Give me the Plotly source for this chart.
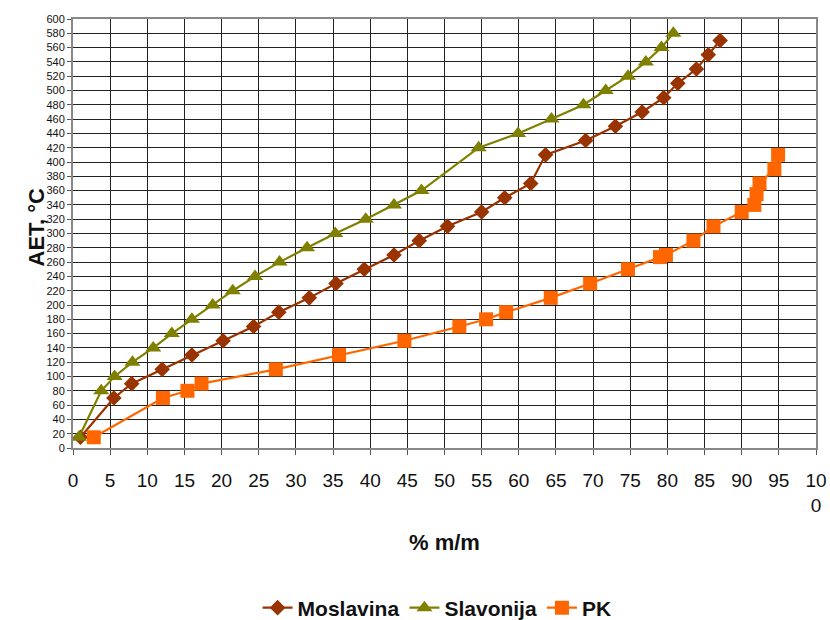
import plotly.graph_objects as go

# Moslavina crude: distillation curve (% m/m vs AET, °C)
mos_x = [1.0, 5.5, 7.9, 12.0, 16.0, 20.2, 24.3, 27.7, 31.8, 35.4, 39.2, 43.2, 46.6,
         50.4, 55.0, 58.1, 61.6, 63.6, 69.0, 73.0, 76.6, 79.5, 81.4, 83.9, 85.5, 87.1]
mos_y = [15, 70, 90, 110, 130, 150, 170, 190, 210, 230, 250, 270, 290,
         310, 330, 350, 370, 410, 430, 450, 470, 490, 510, 530, 550, 570]

# Slavonija crude
sla_x = [0.8, 3.8, 5.6, 8.0, 10.8, 13.3, 16.0, 18.8, 21.5, 24.5, 27.8, 31.5, 35.3,
         39.4, 43.2, 46.9, 54.6, 59.9, 64.4, 68.7, 71.7, 74.7, 77.1, 79.2, 80.8]
sla_y = [15, 80, 100, 120, 140, 160, 180, 200, 220, 240, 260, 280, 300,
         320, 340, 360, 420, 440, 460, 480, 500, 520, 540, 560, 580]

# PK
pk_x = [2.8, 12.1, 15.4, 17.3, 27.3, 35.8, 44.6, 52.0, 55.6, 58.3, 64.3, 69.6, 74.7,
        79.0, 79.8, 83.5, 86.2, 90.0, 91.7, 92.0, 92.4, 94.4, 94.9]
pk_y = [15, 70, 80, 90, 110, 130, 150, 170, 180, 190, 210, 230, 250,
        267, 270, 290, 310, 330, 340, 355, 370, 390, 410]

x_ticks = list(range(0, 101, 5))
x_tick_text = [str(v) for v in x_ticks[:-1]] + ["10<br>0"]
y_ticks = list(range(0, 601, 20))

BASE = "Liberation Sans, Arial, sans-serif"

fig = go.Figure()
fig.add_trace(go.Scatter(
    x=mos_x, y=mos_y, name="Moslavina", mode="lines+markers",
    line=dict(color="#993300", width=2.2),
    marker=dict(symbol="diamond", size=12, color="#993300")))
fig.add_trace(go.Scatter(
    x=sla_x, y=sla_y, name="Slavonija", mode="lines+markers",
    line=dict(color="#808000", width=2.2),
    marker=dict(symbol="triangle-up", size=14, color="#808000")))
fig.add_trace(go.Scatter(
    x=pk_x, y=pk_y, name="PK", mode="lines+markers",
    line=dict(color="#FF6600", width=2.2),
    marker=dict(symbol="square", size=14, color="#FF6600")))

fig.update_xaxes(
    range=[0, 100], tickvals=x_ticks, ticktext=x_tick_text,
    showgrid=True, gridcolor="#222222", gridwidth=1,
    ticks="outside", ticklen=5, tickcolor="#555555",
    ticklabelstandoff=9, automargin=False,
    tickfont=dict(family=BASE, size=19, color="#111111"),
    showline=True, linecolor="#888888", linewidth=2, mirror=True, zeroline=False)
fig.update_yaxes(
    range=[0, 600], tickvals=y_ticks, automargin=False,
    showgrid=True, gridcolor="#222222", gridwidth=1,
    ticks="outside", ticklen=4, tickcolor="#555555",
    tickfont=dict(family=BASE, size=11, color="#111111"),
    showline=True, linecolor="#888888", linewidth=2, mirror=True, zeroline=False)

fig.add_annotation(text="<b>% m/m</b>", xref="paper", yref="paper",
                   x=0.5, y=-0.254, showarrow=False,
                   font=dict(family=BASE, size=22, color="#111111"))
fig.add_annotation(text="<b>AET, °C</b>", xref="paper", yref="paper",
                   x=-0.0693, y=0.514, textangle=-90, showarrow=False,
                   font=dict(family=BASE, size=22, color="#111111"))

fig.update_layout(
    width=830, height=620,
    margin=dict(l=73, r=14, t=19, b=172, autoexpand=False),
    paper_bgcolor="white", plot_bgcolor="white",
    showlegend=True,
    legend=dict(orientation="h", x=0.49, xanchor="center", y=-0.373, yanchor="middle",
                font=dict(family=BASE, size=21, color="#111111", weight="bold"),
                traceorder="normal"),
    font=dict(family=BASE),
)

fig.write_html("out.html")
